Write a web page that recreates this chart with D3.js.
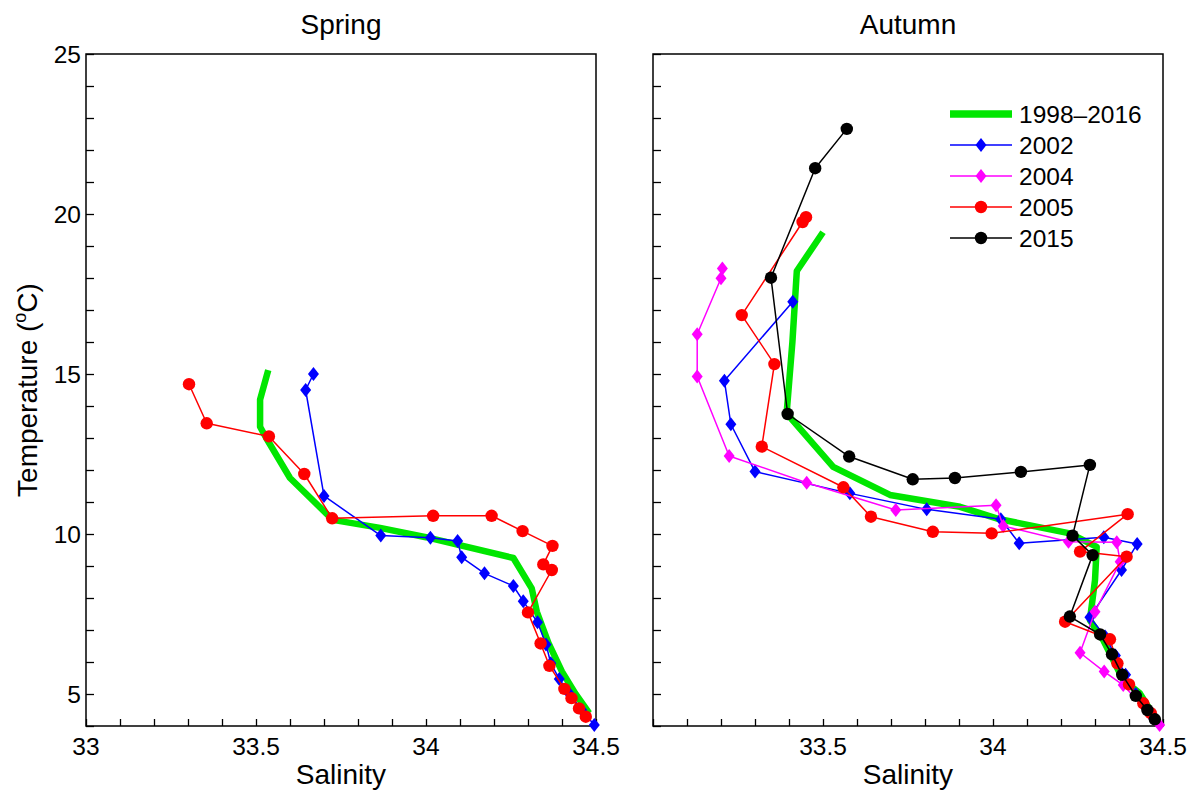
<!DOCTYPE html>
<html>
<head>
<meta charset="utf-8">
<script src="https://cdn.jsdelivr.net/npm/d3@7"></script>
<style>
  body { margin: 0; background: #fff; }
  text { font-family: "Liberation Sans", Arial, sans-serif; fill: #000; }
</style>
</head>
<body>
<div id="chart"></div>
<script>
// salinity / temperature pairs
var springClim = [[33.536,15.12],[33.512,14.2],[33.512,13.35],[33.53,13.0],[33.6,11.75],[33.726,10.44],
  [33.865,10.19],[34.0,9.9],[34.257,9.25],[34.311,8.3],[34.326,7.57],[34.36,6.6],[34.4,5.7],[34.44,5.0],[34.48,4.4]];
var spring2002 = [[33.669,15.0],[33.646,14.5],[33.7,11.19],[33.867,9.95],[34.013,9.88],[34.093,9.78],[34.105,9.27],
  [34.172,8.77],[34.257,8.375],[34.286,7.9],[34.328,7.24],[34.353,6.55],[34.367,5.96],[34.392,5.47],
  [34.419,5.05],[34.458,4.5],[34.495,4.03]];
var spring2005 = [[33.303,14.68],[33.355,13.46],[33.538,13.05],[33.642,11.875],[33.724,10.49],[34.021,10.57],
  [34.193,10.57],[34.284,10.09],[34.372,9.63],[34.345,9.05],[34.37,8.875],[34.3,7.55],[34.337,6.58],
  [34.363,5.88],[34.407,5.16],[34.428,4.87],[34.45,4.55],[34.47,4.29]];

var autumnClim = [[33.5,19.43],[33.423,18.22],[33.41,16.0],[33.393,13.77],[33.53,12.1],[33.697,11.22],
  [33.903,10.85],[34.02,10.46],[34.226,10.02],[34.305,9.6],[34.3,8.56],[34.285,7.31],[34.324,6.69],
  [34.383,5.44],[34.432,5.02],[34.481,4.19]];
var autumn2002 = [[33.411,17.26],[33.21,14.79],[33.229,13.43],[33.3,11.95],[33.579,11.27],[33.805,10.77],
  [34.023,10.46],[34.077,9.71],[34.326,9.9],[34.424,9.69],[34.378,8.875],[34.285,7.4],[34.33,6.8],
  [34.36,6.2],[34.39,5.6],[34.42,5.0],[34.46,4.4]];
var autumn2004 = [[33.204,18.3],[33.2,17.99],[33.13,16.24],[33.13,14.92],[33.224,12.44],[33.452,11.6],
  [33.714,10.75],[34.009,10.9],[34.03,10.25],[34.222,9.76],[34.364,9.74],[34.374,9.13],[34.3,7.57],
  [34.256,6.29],[34.327,5.7],[34.383,5.28],[34.49,4.03]];
var autumn2005 = [[33.45,19.9],[33.44,19.75],[33.261,16.84],[33.357,15.31],[33.32,12.73],[33.56,11.46],
  [33.641,10.54],[33.823,10.07],[33.996,10.02],[34.396,10.62],[34.256,9.45],[34.393,9.29],[34.212,7.26],
  [34.344,6.71],[34.366,5.96],[34.4,5.3],[34.442,4.71],[34.464,4.4]];
var autumn2015 = [[33.57,22.66],[33.477,21.43],[33.347,18.01],[33.396,13.75],[33.577,12.42],[33.764,11.71],
  [33.888,11.75],[34.082,11.94],[34.285,12.16],[34.234,9.95],[34.293,9.34],[34.226,7.42],[34.315,6.86],
  [34.35,6.24],[34.38,5.6],[34.42,4.94],[34.454,4.5],[34.476,4.21]];

var panelTitles = ["Spring", "Autumn"];
var legendLabels = ["1998\u20132016", "2002", "2004", "2005", "2015"];
var xTicks = d3.range(33, 34.501, 0.1);
var xLabels = [33, 33.5, 34, 34.5];
var yTicks = d3.range(4, 25.01, 1);
var yLabels = [5, 10, 15, 20, 25];

var width = 1197, height = 792;
var styles = {
  clim: {color: "#00e600", width: 6.5, marker: null},
  y2002: {color: "#0000ff", width: 1.5, marker: "diamond"},
  y2004: {color: "#ff00ff", width: 1.5, marker: "diamond"},
  y2005: {color: "#ff0000", width: 1.5, marker: "circle"},
  y2015: {color: "#000000", width: 1.5, marker: "circle"}
};

var panels = [
  {title: panelTitles[0], left: 86, series: [
    {data: springClim, s: styles.clim}, {data: spring2002, s: styles.y2002}, {data: spring2005, s: styles.y2005}]},
  {title: panelTitles[1], left: 653, series: [
    {data: autumnClim, s: styles.clim}, {data: autumn2002, s: styles.y2002}, {data: autumn2004, s: styles.y2004},
    {data: autumn2005, s: styles.y2005}, {data: autumn2015, s: styles.y2015}]}
];
var pw = 510, plotTop = 54, plotBottom = 726;

var svg = d3.select("#chart").append("svg")
    .attr("width", width)
    .attr("height", height);

var y = d3.scaleLinear().domain([4, 25]).range([plotBottom, plotTop]);

function drawMarker(sel, kind, color) {
  if (kind == "circle") {
    sel.append("circle").attr("r", 6.2).attr("fill", color);
  } else if (kind == "diamond") {
    sel.append("path").attr("d", "M0,-7L5.5,0L0,7L-5.5,0Z").attr("fill", color);
  }
}

panels.forEach(function(p, pi) {
  var x = d3.scaleLinear().domain([33, 34.5]).range([p.left, p.left + pw]);
  var g = svg.append("g");

  // inward ticks
  g.append("g")
      .attr("transform", "translate(0," + plotBottom + ")")
      .call(d3.axisBottom(x).tickValues(xTicks).tickSizeInner(-7).tickSizeOuter(0).tickFormat(""))
      .call(function(a) { a.select(".domain").remove(); a.selectAll("line").attr("stroke-width", 1.3); });
  g.append("g")
      .attr("transform", "translate(" + p.left + ",0)")
      .call(d3.axisLeft(y).tickValues(yTicks).tickSizeInner(-8).tickSizeOuter(0).tickFormat(""))
      .call(function(a) { a.select(".domain").remove(); a.selectAll("line").attr("stroke-width", 1.3); });

  g.append("rect")
      .attr("x", p.left).attr("y", plotTop)
      .attr("width", pw).attr("height", plotBottom - plotTop)
      .attr("fill", "none").attr("stroke", "#000").attr("stroke-width", 1.5);

  // tick labels
  g.selectAll(".xl")
    .data(pi == 0 ? xLabels : xLabels.slice(1))
    .enter().append("text")
      .attr("x", function(d) { return x(d); })
      .attr("y", 755)
      .attr("text-anchor", "middle")
      .attr("font-size", 24.5)
      .text(function(d) { return d; });
  if (pi == 0) {
    g.selectAll(".yl")
      .data(yLabels)
      .enter().append("text")
        .attr("x", p.left - 5)
        .attr("y", function(d) { return y(d); })
        .attr("dy", "0.36em")
        .attr("text-anchor", "end")
        .attr("font-size", 24.5)
        .text(function(d) { return d; });
  }

  g.append("text")
      .attr("x", p.left + pw / 2)
      .attr("y", 34)
      .attr("text-anchor", "middle")
      .attr("font-size", 28)
      .text(p.title);
  g.append("text")
      .attr("x", p.left + pw / 2)
      .attr("y", 784)
      .attr("text-anchor", "middle")
      .attr("font-size", 28)
      .text("Salinity");

  var line = d3.line().x(function(d) { return x(d[0]); }).y(function(d) { return y(d[1]); });

  p.series.forEach(function(sr) {
    g.append("path")
        .datum(sr.data)
        .attr("d", line)
        .attr("fill", "none")
        .attr("stroke", sr.s.color)
        .attr("stroke-width", sr.s.width)
        .attr("stroke-linejoin", "round");
    if (sr.s.marker) {
      g.selectAll(null)
        .data(sr.data)
        .enter().append("g")
          .attr("transform", function(d) { return "translate(" + x(d[0]) + "," + y(d[1]) + ")"; })
          .each(function() { drawMarker(d3.select(this), sr.s.marker, sr.s.color); });
    }
  });
});

// y label
var yl = svg.append("text")
    .attr("transform", "translate(37," + ((plotTop + plotBottom) / 2) + ") rotate(-90)")
    .attr("text-anchor", "middle")
    .attr("font-size", 28);
yl.append("tspan").text("Temperature (");
yl.append("tspan").attr("font-size", 18).attr("dy", -11).text("o");
yl.append("tspan").attr("dy", 11).text("C)");

// legend
var legendStyles = [styles.clim, styles.y2002, styles.y2004, styles.y2005, styles.y2015];
var legend = svg.append("g")
  .selectAll("g")
  .data(legendLabels)
  .enter().append("g")
    .attr("transform", function(d, i) { return "translate(950," + (114 + i * 31) + ")"; });

legend.append("line")
    .attr("x1", 0).attr("x2", 62)
    .attr("stroke", function(d, i) { return legendStyles[i].color; })
    .attr("stroke-width", function(d, i) { return i == 0 ? 7.5 : 1.5; });
legend.each(function(d, i) {
  var m = d3.select(this).append("g").attr("transform", "translate(31,0)");
  drawMarker(m, legendStyles[i].marker, legendStyles[i].color);
});
legend.append("text")
    .attr("x", 69)
    .attr("dy", "0.36em")
    .attr("font-size", 24.5)
    .text(function(d) { return d; });
</script>
</body>
</html>
